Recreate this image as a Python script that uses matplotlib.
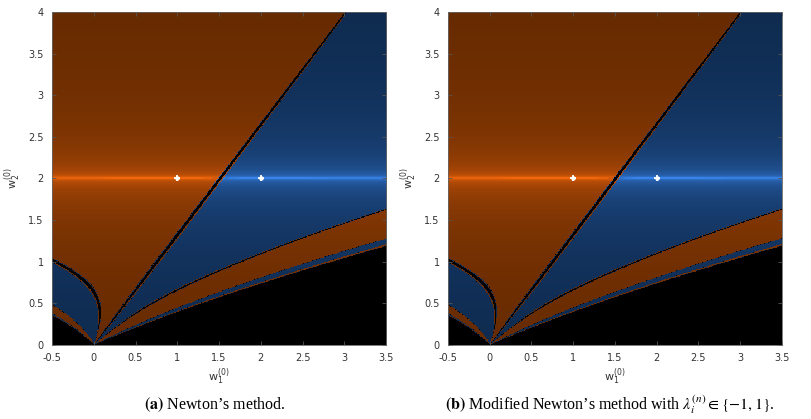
import numpy as np
import matplotlib
matplotlib.use("Agg")
import matplotlib.pyplot as plt

plt.rcParams["mathtext.fontset"] = "stix"

# ---- data / parameters ----
roots_w1 = [1.0, 2.0]          # w1 coordinate of the two roots
roots_w2 = [2.0, 2.0]          # w2 coordinate of the two roots
x_range = [-0.5, 3.5]
y_range = [0.0, 4.0]
x_ticks = [-0.5, 0, 0.5, 1, 1.5, 2, 2.5, 3, 3.5]
x_tick_labels = ["-0.5", "0", "0.5", "1", "1.5", "2", "2.5", "3", "3.5"]
y_ticks = [0, 0.5, 1, 1.5, 2, 2.5, 3, 3.5, 4]
y_tick_labels = ["0", "0.5", "1", "1.5", "2", "2.5", "3", "3.5", "4"]
captions = ["$\\mathbf{(a)}$ Newton\u2019s method.",
            "$\\mathbf{(b)}$ Modified Newton\u2019s method with $\\lambda_i^{(n)} \\in \\{-1, 1\\}$."]
bright_colors = [(0.95, 0.40, 0.05), (0.22, 0.52, 0.92)]
dark_colors = [(0.36, 0.15, 0.0), (0.05, 0.15, 0.28)]

R0, A_R, A_L, K = 1.2, 0.45, 0.15, 3.0
NX, NY, MAXIT, TOL = 600, 600, 80, 1e-3


def g_and_dg(r):
    N = (r - 0.5) * (r - 1.0)
    dN = 2 * r - 1.5
    u = r - R0
    a = np.where(u > 0, A_R, A_L)
    D = 1 + a * u ** 2
    dD = 2 * a * u
    return N / D, (dN * D - N * dD) / D ** 2


def basins():
    x = np.linspace(x_range[0], x_range[1], NX)
    y = np.linspace(y_range[0], y_range[1], NY)
    W1, W2 = np.meshgrid(x, y)
    W2 = np.where(W2 == 0, 1e-4, W2)
    label = np.full(W1.shape, -1)
    nu = np.full(W1.shape, float(MAXIT))
    active = np.ones(W1.shape, bool)
    with np.errstate(all="ignore"):
        for it in range(MAXIT):
            r = W1 / W2
            g, dg = g_and_dg(r)
            # F1 = w2^K g(w1/w2), F2 = (w2 - 2)^2
            F1 = W2 ** K * g
            a11 = W2 ** (K - 1) * dg
            a12 = K * W2 ** (K - 1) * g - W2 ** (K - 2) * W1 * dg
            d2 = -(W2 - 2.0) / 2.0
            d1 = (-F1 - a12 * d2) / a11
            W1 = np.where(active, W1 + d1, W1)
            W2 = np.where(active, W2 + d2, W2)
            for k in range(2):
                d = np.hypot(W1 - roots_w1[k], W2 - roots_w2[k])
                hit = active & (d < TOL)
                frac = np.log2(TOL / np.maximum(d, 1e-300))
                nu = np.where(hit, it + 1 - np.clip(frac, 0, 1), nu)
                label = np.where(hit, k, label)
                active &= ~hit
            bad = ~np.isfinite(W1) | ~np.isfinite(W2) | (np.abs(W1) > 1e6)
            active &= ~bad
    img = np.zeros(W1.shape + (3,))
    b = np.clip((12.5 - nu) / 10.0, 0, 1) ** 1.3
    for k in range(2):
        m = label == k
        for c in range(3):
            img[..., c] = np.where(m, dark_colors[k][c] + (bright_colors[k][c] - dark_colors[k][c]) * b, img[..., c])
    return img


image = basins()

fig = plt.figure(figsize=(8.11, 4.19), dpi=100)
positions = [[52 / 811, 74 / 419, 334 / 811, 333 / 419],
             [448 / 811, 74 / 419, 334 / 811, 333 / 419]]
caption_x = [215 / 811, 610 / 811]
tick_col = "#333333"
for i in range(2):
    ax = fig.add_axes(positions[i])
    ax.imshow(image, extent=[x_range[0], x_range[1], y_range[0], y_range[1]],
              origin="lower", aspect="auto", interpolation="nearest")
    ax.plot(roots_w1, roots_w2, linestyle="none", marker="+", color="white", ms=5, mew=1.3)
    ax.plot(roots_w1, roots_w2, linestyle="none", marker="o", color="white", ms=2.2)
    ax.set_xlim(x_range)
    ax.set_ylim(y_range)
    ax.set_xticks(x_ticks)
    ax.set_xticklabels(x_tick_labels)
    ax.set_yticks(y_ticks)
    ax.set_yticklabels(y_tick_labels)
    ax.tick_params(direction="in", length=3, width=0.6, colors="#555555",
                   labelcolor=tick_col, labelsize=7, top=True, right=True, pad=6)
    for s in ax.spines.values():
        s.set_color("#666666")
        s.set_linewidth(0.6)
    ax.set_xlabel("$\\mathregular{w_1^{(0)}}$", fontsize=8, color=tick_col, labelpad=2)
    ax.set_ylabel("$\\mathregular{w_2^{(0)}}$", fontsize=8, color=tick_col, labelpad=4)

for i, txt in enumerate(captions):
    fig.text(caption_x[i], 14 / 419, txt, ha="center", va="center",
             fontsize=11.5, family="Liberation Serif", color="black")

fig.savefig("out.png", dpi=100)
